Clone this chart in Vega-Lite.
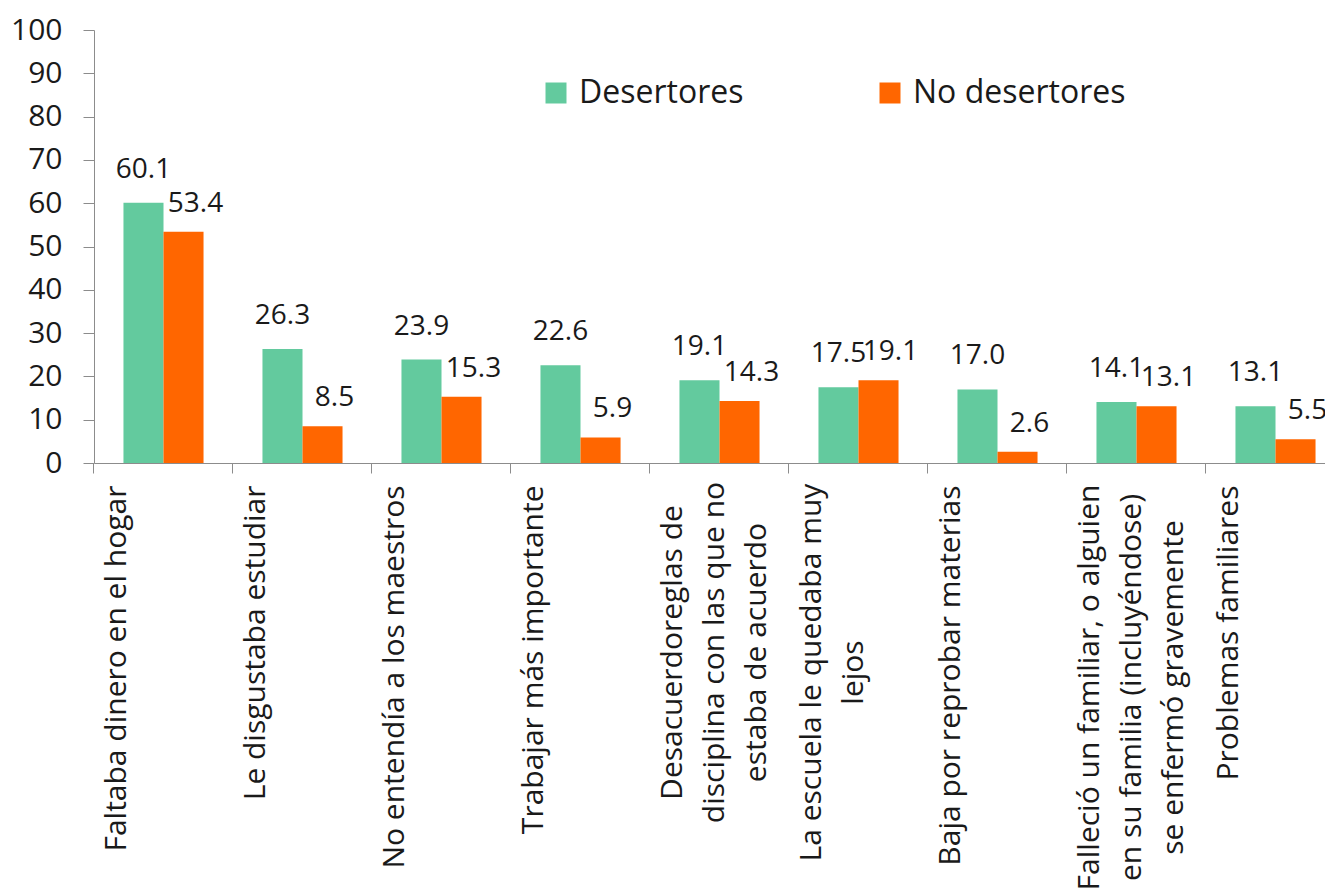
{
  "$schema": "https://vega.github.io/schema/vega-lite/v6.json",
  "width": 1231,
  "height": 433,
  "autosize": {"type": "none"},
  "padding": {"left": 94, "top": 30, "right": 0, "bottom": 432},
  "background": "white",
  "config": {"view": {"stroke": null}, "font": "Open Sans"},
  "data": {
    "values": [
      {"motivo": "Faltaba dinero en el hogar", "grupo": "Desertores", "valor": 60.1},
      {"motivo": "Faltaba dinero en el hogar", "grupo": "No desertores", "valor": 53.4},
      {"motivo": "Le disgustaba estudiar", "grupo": "Desertores", "valor": 26.3},
      {"motivo": "Le disgustaba estudiar", "grupo": "No desertores", "valor": 8.5},
      {"motivo": "No entendía a los maestros", "grupo": "Desertores", "valor": 23.9},
      {"motivo": "No entendía a los maestros", "grupo": "No desertores", "valor": 15.3},
      {"motivo": "Trabajar más importante", "grupo": "Desertores", "valor": 22.6},
      {"motivo": "Trabajar más importante", "grupo": "No desertores", "valor": 5.9},
      {"motivo": "Desacuerdoreglas de|disciplina con las que no|estaba de acuerdo", "grupo": "Desertores", "valor": 19.1},
      {"motivo": "Desacuerdoreglas de|disciplina con las que no|estaba de acuerdo", "grupo": "No desertores", "valor": 14.3},
      {"motivo": "La escuela le quedaba muy|lejos", "grupo": "Desertores", "valor": 17.5},
      {"motivo": "La escuela le quedaba muy|lejos", "grupo": "No desertores", "valor": 19.1},
      {"motivo": "Baja por reprobar materias", "grupo": "Desertores", "valor": 17.0},
      {"motivo": "Baja por reprobar materias", "grupo": "No desertores", "valor": 2.6},
      {"motivo": "Falleció un familiar, o alguien|en su familia (incluyéndose)|se enfermó gravemente", "grupo": "Desertores", "valor": 14.1},
      {"motivo": "Falleció un familiar, o alguien|en su familia (incluyéndose)|se enfermó gravemente", "grupo": "No desertores", "valor": 13.1},
      {"motivo": "Problemas familiares", "grupo": "Desertores", "valor": 13.1},
      {"motivo": "Problemas familiares", "grupo": "No desertores", "valor": 5.5}
    ]
  },
  "encoding": {
    "x": {
      "field": "motivo",
      "type": "nominal",
      "sort": null,
      "scale": {"range": [0, 1251], "paddingInner": 0.424, "paddingOuter": 0.212},
      "axis": {
        "title": null,
        "bandPosition": -0.369,
        "labelExpr": "split(datum.label, '|')",
        "labelAngle": -90,
        "labelAlign": {"condition": {"test": "indexof(datum.value, '|') >= 0", "value": "center"}, "value": "right"},
        "labelBaseline": "top",
        "labelOffset": -62,
        "labelPadding": {
          "condition": [
            {"test": "indexof(datum.value, 'Desacuerdo') == 0", "value": 179},
            {"test": "indexof(datum.value, 'La escuela') == 0", "value": 199},
            {"test": "indexof(datum.value, 'Falleci') == 0", "value": 214}
          ],
          "value": 12
        },
        "labelFontSize": 30,
        "labelLineHeight": 42,
        "labelColor": "#1a1a1a",
        "labelLimit": 700,
        "labelOverlap": false,
        "domainColor": "#8c8c8c",
        "tickColor": "#8c8c8c",
        "tickSize": 10
      }
    },
    "xOffset": {"field": "grupo", "type": "nominal", "scale": {"domain": ["Desertores", "No desertores"]}},
    "y": {
      "field": "valor",
      "type": "quantitative",
      "scale": {"domain": [0, 100], "nice": false},
      "axis": {
        "title": null,
        "values": [0, 10, 20, 30, 40, 50, 60, 70, 80, 90, 100],
        "grid": false,
        "domainColor": "#8c8c8c",
        "tickColor": "#8c8c8c",
        "tickSize": 11,
        "labelPadding": 21,
        "labelFontSize": 30,
        "labelColor": "#1a1a1a"
      }
    }
  },
  "layer": [
    {
      "mark": {"type": "bar"},
      "encoding": {
        "color": {
          "field": "grupo",
          "type": "nominal",
          "scale": {"domain": ["Desertores", "No desertores"], "range": ["#63CA9E", "#FF6600"]},
          "legend": {
            "orient": "none",
            "legendX": 446,
            "legendY": 47,
            "direction": "horizontal",
            "title": null,
            "symbolType": "square",
            "symbolSize": 441,
            "symbolStrokeWidth": 0,
            "labelFontSize": 32,
            "labelColor": "#1a1a1a",
            "labelOffset": 7,
            "columnPadding": 130,
            "labelLimit": 400
          }
        }
      }
    },
    {
      "transform": [{"filter": "datum.grupo == 'Desertores'"}],
      "mark": {"type": "text", "baseline": "alphabetic", "dy": -25, "fontSize": 28, "color": "#1a1a1a"},
      "encoding": {"text": {"field": "valor", "type": "quantitative", "format": ".1f"}}
    },
    {
      "transform": [{"filter": "datum.grupo == 'No desertores'"}],
      "mark": {"type": "text", "baseline": "alphabetic", "dy": -20, "dx": 12, "fontSize": 28, "color": "#1a1a1a"},
      "encoding": {"text": {"field": "valor", "type": "quantitative", "format": ".1f"}}
    }
  ]
}
